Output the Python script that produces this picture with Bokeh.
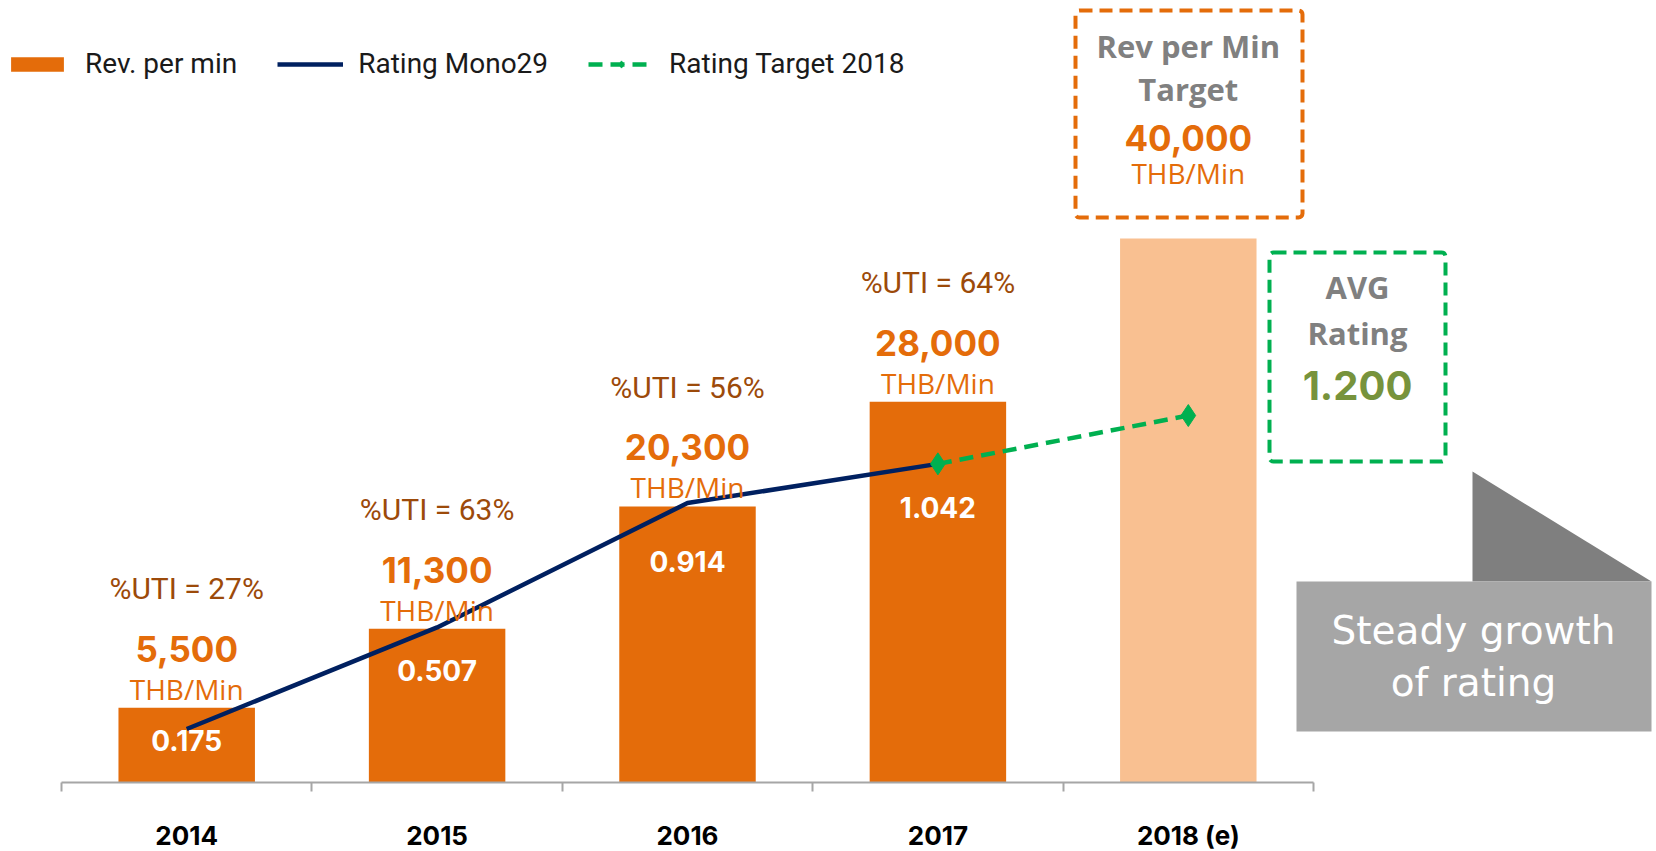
from bokeh.plotting import figure
from bokeh.models import (Range1d, LinearAxis, FixedTicker, ColumnDataSource, LabelSet, Label,
                          BoxAnnotation, PolyAnnotation, Legend, LegendItem)
from bokeh.core.properties import value, field
from bokeh.embed import file_html
from bokeh.resources import INLINE

# ---------------- data ----------------
years = ["2014", "2015", "2016", "2017", "2018 (e)"]
rev_per_min = [5500, 11300, 20300, 28000, 40000]
rating_mono29 = [0.175, 0.507, 0.914, 1.042]
rating_target_2018 = [1.042, 1.200]
uti_pct = [27, 63, 56, 64]

# ---------------- layout ----------------
W, H = 1656, 851
BASE = 782             # px from top where the axis line sits
X0 = 61                # px of the left end of the category axis
CAT = 250.4            # px per category
PX_PER_THB = 0.0136
PX_PER_RATING = 305.8

ORANGE = "#E46C0A"
LIGHT = "#F9C091"
NAVY = "#002060"
GREEN = "#00B050"
BROWN = "#9C4A0A"
GREY_T = "#808080"

def fx(px):   # screen x -> data x
    return (px - X0) / CAT

def fy(py):   # screen y (px from top) -> data y (THB)
    return (BASE - py) / PX_PER_THB

xc = [i + 0.5 for i in range(len(years))]

p = figure(width=W, height=H, output_backend="svg", toolbar_location=None,
           x_range=Range1d(fx(0), fx(W)), y_range=Range1d(fy(H), fy(0)),
           x_axis_location=None, y_axis_location=None, title_location=None,
           min_border_left=0, min_border_right=0, min_border_top=0, min_border_bottom=0)
p.extra_y_ranges = {"rating": Range1d((BASE - H) / PX_PER_RATING, BASE / PX_PER_RATING)}
p.outline_line_color = None
p.background_fill_color = "white"
p.border_fill_color = "white"
for g in p.grid:
    g.visible = False

# ---------------- bars ----------------
bar_src = ColumnDataSource(dict(x=xc, top=rev_per_min,
                                color=[ORANGE] * 4 + [LIGHT]))
bars = p.vbar(x="x", top="top", bottom=0, width=0.545, fill_color="color", line_color=None,
              source=bar_src)

# ---------------- labels above / inside bars ----------------
lab_src = ColumnDataSource(dict(
    x=xc[:4], y=rev_per_min[:4],
    uti=[f"%UTI = {u}%" for u in uti_pct],
    val=[f"{v:,}" for v in rev_per_min[:4]],
    unit=["THB/Min"] * 4,
    rating=[f"{r:.3f}" for r in rating_mono29],
    drop=[-33, -42, -55, -106],
))
p.add_layout(LabelSet(x="x", y="y", text="uti", source=lab_src, y_offset=119,
                      text_align="center", text_baseline="middle",
                      text_font=value("Roboto"), text_font_size="30px", text_color=BROWN))
p.add_layout(LabelSet(x="x", y="y", text="val", source=lab_src, y_offset=59,
                      text_align="center", text_baseline="middle",
                      text_font=value("Inter"), text_font_style="bold",
                      text_font_size="35px", text_color=ORANGE))
p.add_layout(LabelSet(x="x", y="y", text="unit", source=lab_src, y_offset=19,
                      text_align="center", text_baseline="middle",
                      text_font=value("Open Sans"), text_font_size="28px", text_color=ORANGE))
p.add_layout(LabelSet(x="x", y="y", text="rating", source=lab_src, y_offset=field("drop"),
                      text_align="center", text_baseline="middle",
                      text_font=value("Inter"), text_font_style="bold",
                      text_font_size="28px", text_color="white"))

# ---------------- rating lines ----------------
mono = p.line(x=xc[:4], y=rating_mono29, y_range_name="rating",
              line_color=NAVY, line_width=4.5)
tline = p.line(x=xc[3:5], y=rating_target_2018, y_range_name="rating",
               line_color=GREEN, line_width=4.5, line_dash="14 8")
tpts = p.scatter(x=xc[3:5], y=rating_target_2018, y_range_name="rating",
                 marker="diamond", size=22, fill_color=GREEN, line_color=GREEN)

# ---------------- x axis ----------------
xaxis = LinearAxis(ticker=FixedTicker(ticks=xc, minor_ticks=list(range(len(years) + 1))),
                   bounds=(0, len(years)), fixed_location=0)
xaxis.major_label_overrides = {x: y for x, y in zip(xc, years)}
xaxis.axis_line_color = "#A6A6A6"
xaxis.axis_line_width = 2
xaxis.major_tick_in = 0
xaxis.major_tick_out = 0
xaxis.minor_tick_in = 0
xaxis.minor_tick_out = 9
xaxis.minor_tick_line_color = "#A6A6A6"
xaxis.minor_tick_line_width = 2
xaxis.major_label_standoff = 28
xaxis.major_label_text_font = "Inter"
xaxis.major_label_text_font_style = "bold"
xaxis.major_label_text_font_size = "26px"
xaxis.major_label_text_color = "black"
p.add_layout(xaxis, "below")

# ---------------- legend ----------------
legend = Legend(items=[LegendItem(label="Rev. per min", renderers=[bars]),
                       LegendItem(label="Rating Mono29", renderers=[mono]),
                       LegendItem(label="Rating Target 2018", renderers=[tline, tpts])],
                orientation="horizontal", location=(4, H - 80),
                glyph_width=66, glyph_height=18, label_standoff=15, spacing=40,
                padding=0, margin=0, border_line_color=None, background_fill_alpha=0,
                label_text_font="Roboto", label_text_font_size="28px",
                label_text_color="#1a1a1a")
p.add_layout(legend)

# ---------------- target boxes ----------------
p.add_layout(BoxAnnotation(left=fx(1075), right=fx(1302), top=fy(10), bottom=fy(217),
                           fill_alpha=0, line_color=ORANGE, line_alpha=1, line_width=4,
                           line_dash="13 7", border_radius=4))
for txt, ypx, size, col, bold in [("Rev per Min", 45, "31px", GREY_T, True),
                                  ("Target", 88, "31px", GREY_T, True),
                                  (f"{rev_per_min[4]:,}", 137, "35px", ORANGE, True),
                                  ("THB/Min", 172, "28px", ORANGE, False)]:
    p.add_layout(Label(x=xc[4], y=fy(ypx), text=txt, text_align="center", text_baseline="middle",
                       text_font="Inter" if txt[0].isdigit() else "Open Sans",
                       text_font_style="bold" if bold else "normal",
                       text_font_size=size, text_color=col))

p.add_layout(BoxAnnotation(left=fx(1269), right=fx(1445), top=fy(252), bottom=fy(461),
                           fill_alpha=0, line_color=GREEN, line_alpha=1, line_width=4,
                           line_dash="13 7", border_radius=4))
for txt, ypx, size, col, font in [("AVG", 286, "31px", GREY_T, "Open Sans"),
                                  ("Rating", 332, "31px", GREY_T, "Open Sans"),
                                  (f"{rating_target_2018[1]:.3f}", 385, "40px", "#77933C", "Inter")]:
    p.add_layout(Label(x=fx(1357), y=fy(ypx), text=txt, text_align="center", text_baseline="middle",
                       text_font=font, text_font_style="bold",
                       text_font_size=size, text_color=col))

# ---------------- callout ----------------
p.add_layout(PolyAnnotation(xs=[fx(1472), fx(1472), fx(1651)], ys=[fy(471), fy(581), fy(581)],
                            fill_color="#7F7F7F", fill_alpha=1, line_color=None))
p.add_layout(BoxAnnotation(left=fx(1296), right=fx(1651), top=fy(581), bottom=fy(731),
                           fill_color="#A6A6A6", fill_alpha=1, line_color=None))
for txt, ypx in [("Steady growth", 630), ("of rating", 682)]:
    p.add_layout(Label(x=fx(1473), y=fy(ypx), text=txt, text_align="center", text_baseline="middle",
                       text_font="DejaVu Sans", text_font_size="39px", text_color="white"))

open("out.html", "w").write(file_html(p, INLINE))
